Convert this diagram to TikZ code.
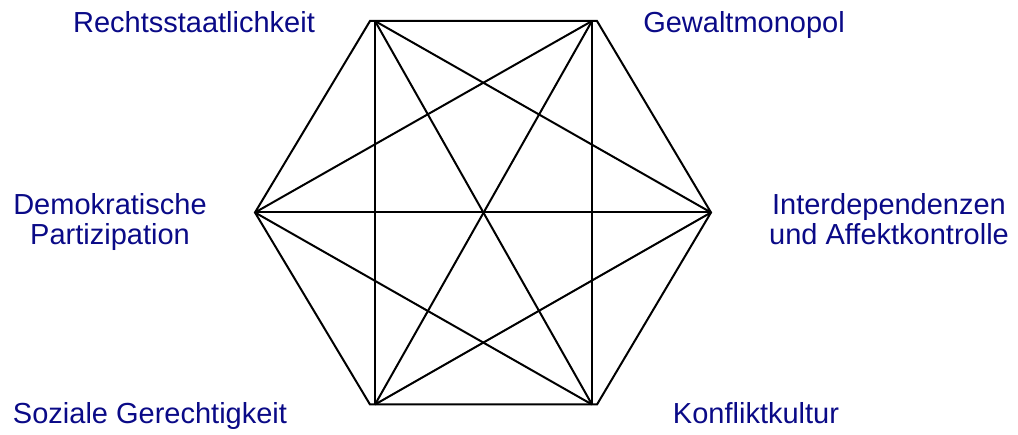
\documentclass[tikz,border=0pt]{standalone}
\usepackage{fontspec}
\setmainfont{Liberation Sans}
\usepackage{xcolor}
\usetikzlibrary{math}
\definecolor{myblue}{RGB}{10, 10, 135}

\tikzset{
  pillar/.style={text=myblue, font=\fontsize{29}{30}\selectfont, align=center, anchor=base, inner sep=0pt},
  chord/.style={line width=2, line join=miter}
}

\begin{document}
\begin{tikzpicture}[x=1pt, y=-1pt]
\tikzmath{
\xL=370;
\xR=597;
\inset=5;
}
\useasboundingbox (0,0) rectangle (1018,435);

% corners of the hexagon
\coordinate (P1) at (\xL,21);
\coordinate (P2) at (\xR,21);
\coordinate (P3) at (711,212.5);
\coordinate (P4) at (\xR,404.5);
\coordinate (P5) at (\xL,404.5);
\coordinate (P6) at (255,212.5);
% inner ends of the chords
\coordinate (Q1) at (\xL+\inset,21);
\coordinate (Q2) at (\xR-\inset,21);
\coordinate (Q4) at (\xR-\inset,404.5);
\coordinate (Q5) at (\xL+\inset,404.5);

\draw[chord] (P1) -- (P2) -- (P3) -- (P4) -- (P5) -- (P6) -- cycle;

\draw[chord] (Q1) -- (Q5);
\draw[chord] (Q2) -- (Q4);
\draw[chord] (P6) -- (P3);
\draw[chord] (Q1) -- (P3);
\draw[chord] (Q1) -- (Q4);
\draw[chord] (Q2) -- (P6);
\draw[chord] (Q2) -- (Q5);
\draw[chord] (P6) -- (Q4);
\draw[chord] (P3) -- (Q5);

\node[pillar] (recht) at (194,33) {Rechtsstaatlichkeit};
\node[pillar] (gewalt) at (744,33) {Gewaltmonopol};
\node[pillar] (demo) at (110,245) {Demokratische\\Partizipation};
\node[pillar] (inter) at (889,245) {Interdependenzen\\und Affektkontrolle};
\node[pillar] (sozial) at (150,424) {Soziale Gerechtigkeit};
\node[pillar] (konflikt) at (756,424) {Konfliktkultur};

\end{tikzpicture}
\end{document}
